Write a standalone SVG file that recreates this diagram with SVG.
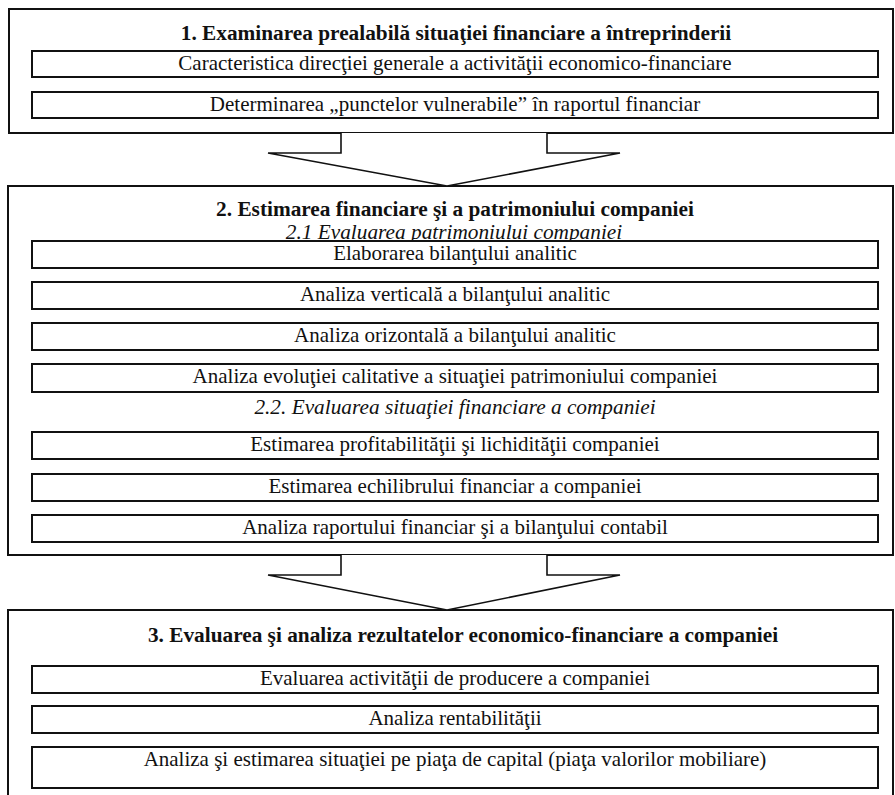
<svg xmlns="http://www.w3.org/2000/svg" width="895" height="795" viewBox="0 0 895 795">
<style>
.outer{fill:#fff;stroke:#111;stroke-width:2}
.box{fill:#fff;stroke:#111;stroke-width:2}
.t{font-family:"Liberation Serif","Times New Roman",serif;font-size:21px;fill:#111;text-anchor:middle}
.b{font-weight:bold;font-size:21.3px}
.i{font-style:italic;font-size:21.3px}
.arrow{fill:#fff;stroke:#111;stroke-width:1.6;stroke-linejoin:miter}
</style>
<rect width="895" height="795" fill="#fff"/>
<g id="section1">
<rect class="outer" x="9" y="9" width="884" height="124"/>
<text class="t b" x="456" y="40">1. Examinarea prealabilă situaţiei financiare a întreprinderii</text>
</g>
<g id="n1a"><rect class="box" x="32" y="51" width="846" height="26"/><text class="t" x="455" y="70">Caracteristica direcţiei generale a activităţii economico-financiare</text></g>
<g id="n1b"><rect class="box" x="32" y="92" width="846" height="26"/><text class="t" x="455" y="111">Determinarea „punctelor vulnerabile” în raportul financiar</text></g>
<g id="section2">
<rect class="outer" x="8" y="186" width="885" height="369"/>
<text class="t b" x="455" y="216">2. Estimarea financiare şi a patrimoniului companiei</text>
<text class="t i" x="454" y="239">2.1 Evaluarea patrimoniului companiei</text>
</g>
<g id="n2a"><rect class="box" x="32" y="241" width="846" height="27"/><text class="t" x="455" y="260">Elaborarea bilanţului analitic</text></g>
<g id="n2b"><rect class="box" x="32" y="282" width="846" height="27"/><text class="t" x="455" y="301">Analiza verticală a bilanţului analitic</text></g>
<g id="n2c"><rect class="box" x="32" y="323" width="846" height="27"/><text class="t" x="455" y="342">Analiza orizontală a bilanţului analitic</text></g>
<g id="n2d"><rect class="box" x="32" y="364" width="846" height="28"/><text class="t" x="455" y="383">Analiza evoluţiei calitative a situaţiei patrimoniului companiei</text></g>
<g id="sub22"><text class="t i" x="455" y="414">2.2. Evaluarea situaţiei financiare a companiei</text></g>
<g id="n2e"><rect class="box" x="32" y="432" width="846" height="27"/><text class="t" x="455" y="451">Estimarea profitabilităţii şi lichidităţii companiei</text></g>
<g id="n2f"><rect class="box" x="32" y="474" width="846" height="27"/><text class="t" x="455" y="493">Estimarea echilibrului financiar a companiei</text></g>
<g id="n2g"><rect class="box" x="32" y="515" width="846" height="27"/><text class="t" x="455" y="534">Analiza raportului financiar şi a bilanţului contabil</text></g>
<g id="section3">
<rect class="outer" x="8" y="610" width="885" height="200"/>
<text class="t b" x="463" y="642">3. Evaluarea şi analiza rezultatelor economico-financiare a companiei</text>
</g>
<g id="n3a"><rect class="box" x="32" y="666" width="846" height="27"/><text class="t" x="455" y="685">Evaluarea activităţii de producere a companiei</text></g>
<g id="n3b"><rect class="box" x="32" y="706" width="846" height="27"/><text class="t" x="455" y="725">Analiza rentabilităţii</text></g>
<g id="n3c"><rect class="box" x="32" y="747" width="846" height="41"/><text class="t" x="455" y="766">Analiza şi estimarea situaţiei pe piaţa de capital (piaţa valorilor mobiliare)</text></g>
<g id="connectors">
<path class="arrow" d="M341,133 V153 H268 L447,186 L620,153 H547 V133"/>
<path class="arrow" d="M341,555 V575 H268 L447,610 L620,575 H547 V555"/>
</g>
</svg>
